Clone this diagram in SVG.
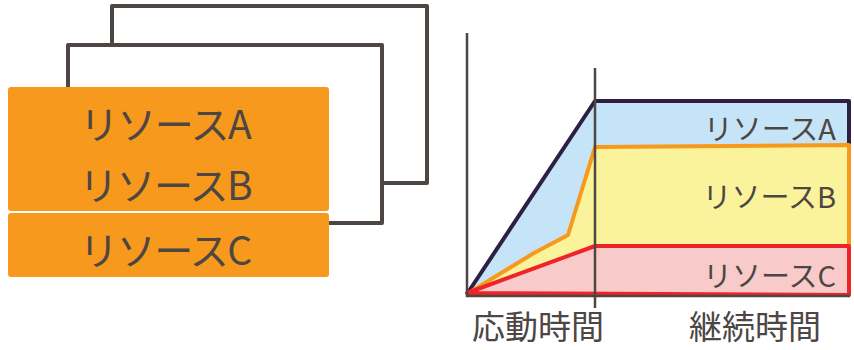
<svg xmlns="http://www.w3.org/2000/svg" width="854" height="350" viewBox="0 0 854 350">
<style>
.frame{fill:none;stroke:#4d4643;stroke-width:4;stroke-linejoin:round}
.box{fill:#f7991c}
.t{font-family:"Noto Sans CJK JP","Noto Sans",sans-serif;fill:#4d4643}
.big{font-size:39px;letter-spacing:-1.5px}
.lab{font-size:29px}
.axis{font-size:33px}
.ax{stroke:#4d4643;stroke-width:2.5;fill:none}
</style>
<rect width="854" height="350" fill="#fff"/>
<g id="frame-back"><path class="frame" d="M112,45 L112,6 L427,6 L427,183 L382,183"/></g>
<g id="frame-mid"><path class="frame" d="M68,87 L68,45 L382,45 L382,223 L329,223"/></g>
<g id="box-ab">
<rect class="box" x="8" y="87" width="321" height="124" rx="3"/>
<text class="t big" x="165" y="139" text-anchor="middle">リソースA</text>
<text class="t big" x="165" y="200" text-anchor="middle">リソースB</text>
</g>
<g id="box-c">
<rect class="box" x="8" y="213" width="321" height="64" rx="3"/>
<text class="t big" x="165" y="265" text-anchor="middle">リソースC</text>
</g>
<g id="chart">
<g id="area-a">
<path d="M467,294 L595,101 L849,101 L849,145 L595,147 L568,235 L534,253 Z" fill="#c5e4f7"/>
<path d="M467,294 L595,101 L849,101 L849,145" fill="none" stroke="#2e1f45" stroke-width="4" stroke-linejoin="round"/>
<text class="t lab" x="836" y="140" text-anchor="end">リソースA</text>
</g>
<g id="area-b">
<path d="M467,294 L534,253 L568,235 L595,147 L849,145 L849,245 L595,246 Z" fill="#fbf39b"/>
<path d="M467,294 L534,253 L568,235 L595,147 L849,145 L849,245" fill="none" stroke="#f7991c" stroke-width="4" stroke-linejoin="round"/>
<text class="t lab" x="836" y="208" text-anchor="end">リソースB</text>
</g>
<g id="area-c">
<path d="M467,293 L595,246 L849,246 L849,295 Z" fill="#f9caca" stroke="#ee2429" stroke-width="4" stroke-linejoin="round"/>
<text class="t lab" x="836" y="287" text-anchor="end">リソースC</text>
</g>
</g>
<g id="axes">
<path class="ax" d="M467,33 L467,296 L850,296"/>
<path class="ax" d="M595,68 L595,308"/>
</g>
<text class="t axis" x="538" y="339" text-anchor="middle">応動時間</text>
<text class="t axis" x="755" y="339" text-anchor="middle">継続時間</text>
</svg>
